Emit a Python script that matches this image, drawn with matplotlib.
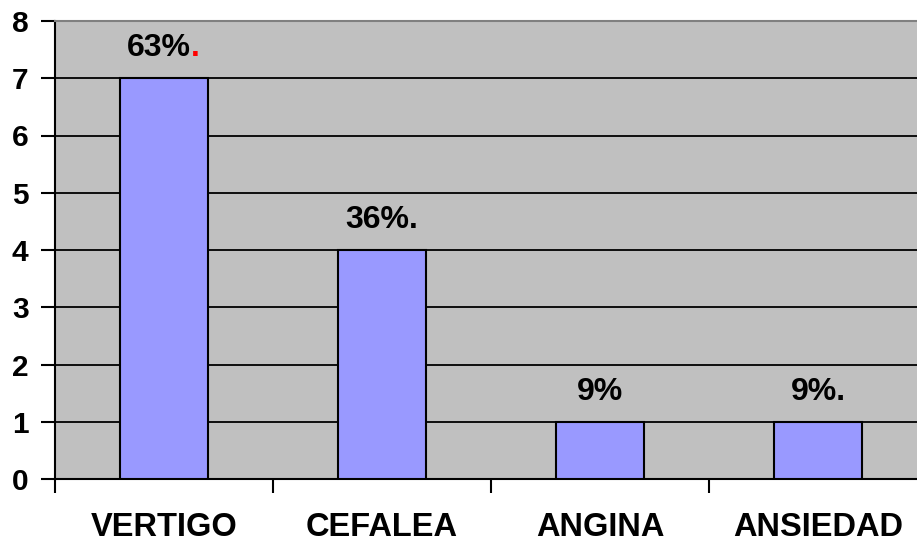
import matplotlib
matplotlib.use('Agg')
import matplotlib.pyplot as plt

# data
categories = ['VERTIGO', 'CEFALEA', 'ANGINA', 'ANSIEDAD']
counts = [7, 4, 1, 1]
bar_labels = ['63%', '36%.', '9%', '9%.']
red_suffix = ['.', '', '', '']
y_ticks = [0, 1, 2, 3, 4, 5, 6, 7, 8]

plt.rcParams['font.family'] = ['Liberation Sans', 'DejaVu Sans']
plt.rcParams['font.weight'] = 'bold'

fig = plt.figure(figsize=(9.17, 5.45), dpi=100)
W, H = 917.0, 545.0
# plot area runs past the right edge of the picture, as in the reference
ax = fig.add_axes([55 / W, 1 - 479 / H, 872 / W, 458 / H])
ax.set_facecolor('#C0C0C0')

x = list(range(len(categories)))
ax.set_axisbelow(True)
ax.yaxis.grid(True, color='black', linewidth=1.3)
ax.bar(x, counts, width=0.4, color='#9999FF', edgecolor='black', linewidth=1.5, zorder=3)

ax.set_xlim(-0.5, len(categories) - 0.5)
ax.set_ylim(0, 8)
ax.set_yticks(y_ticks)
ax.set_yticklabels([str(v) for v in y_ticks], fontsize=21.5, fontweight='bold')
ax.tick_params(axis='y', length=10, width=1.5, pad=9, direction='out')

# boundary ticks on major, category names on minor
ax.set_xticks([i - 0.5 for i in range(len(categories) + 1)])
ax.set_xticklabels([''] * (len(categories) + 1))
ax.tick_params(axis='x', which='major', length=10, width=1.5, direction='out')
ax.set_xticks(x, minor=True)
ax.set_xticklabels(categories, minor=True, fontsize=23.5, fontweight='bold')
ax.tick_params(axis='x', which='minor', length=0, pad=24)

for s in ['left', 'bottom']:
    ax.spines[s].set_linewidth(1.5)
    ax.spines[s].set_color('black')
ax.spines['top'].set_color('#808080')
ax.spines['top'].set_linewidth(1.5)
ax.spines['right'].set_visible(False)

for i, (v, lab, suf) in enumerate(zip(counts, bar_labels, red_suffix)):
    t = ax.annotate(lab, xy=(i, v), xytext=(-4 if suf else 0, 16), textcoords='offset points',
                    ha='center', va='baseline', fontsize=23, fontweight='bold', color='black')
    if suf:
        ax.annotate(suf, xy=(1, 0), xycoords=t, ha='left', va='bottom',
                    fontsize=23, fontweight='bold', color='red')

fig.savefig('out.png', dpi=100)
